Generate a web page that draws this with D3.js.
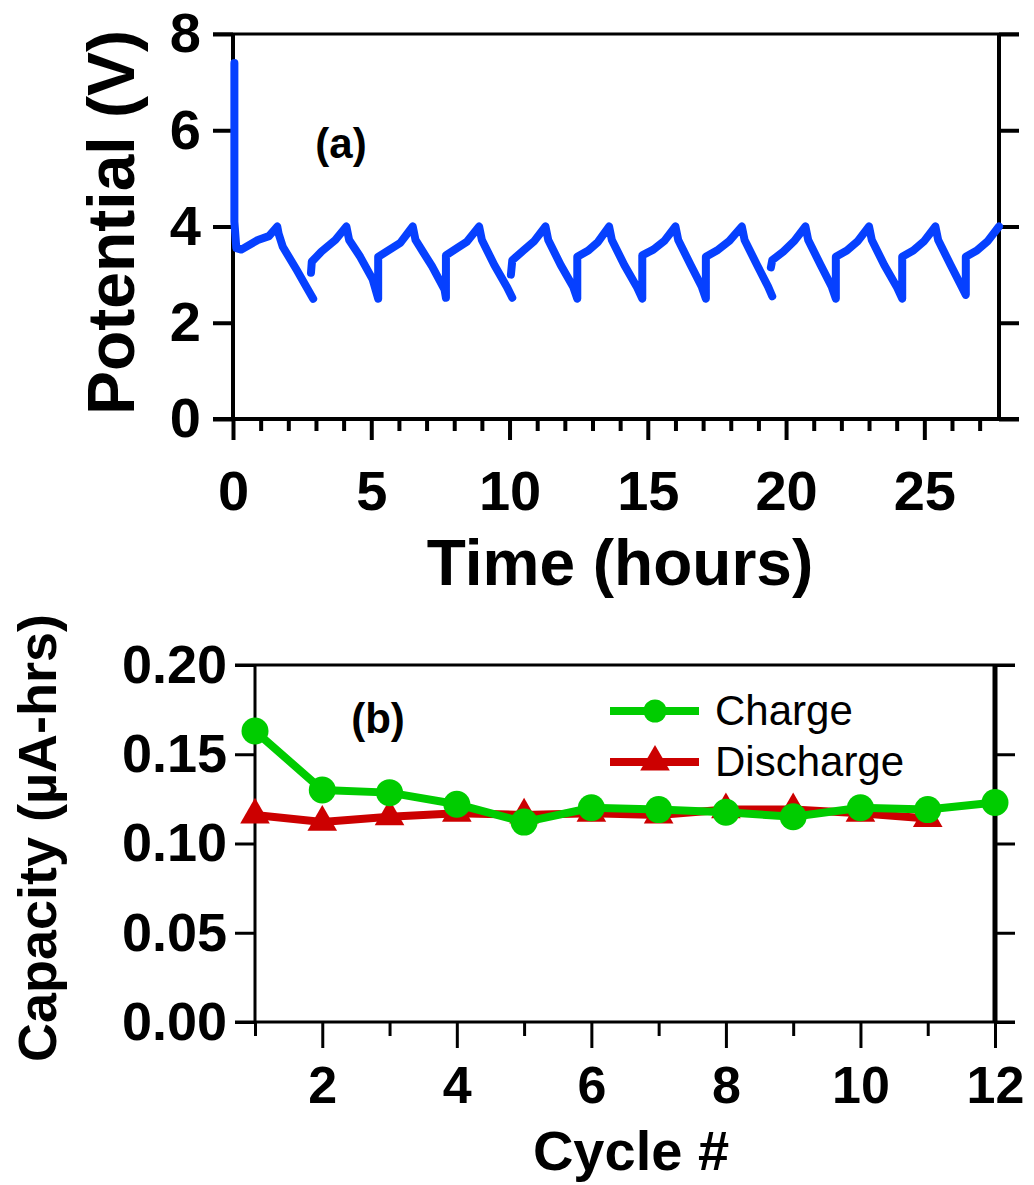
<!DOCTYPE html>
<html>
<head>
<meta charset="utf-8">
<script src="https://cdn.jsdelivr.net/npm/d3@7"></script>
<style>
  html, body { margin: 0; padding: 0; background: #fff; }
  svg { display: block; font-family: "Liberation Sans", Arial, sans-serif; }
</style>
</head>
<body>
<svg id="chart" width="1034" height="1185"></svg>
<script>
// *************** DATA ***************
// panel (a): potential vs time, null = break in the trace
const potentialTrace = [
  [0.05, 7.4], [0.05, 4.1], [0.12, 3.55], [0.3, 3.52], [0.9, 3.72], [1.3, 3.8], [1.6, 4.0],
  [1.65, 3.85], [1.8, 3.58], [2.3, 3.1], [2.65, 2.75], [2.9, 2.5],
  null,
  [2.82, 3.04], [2.85, 3.27], [3.2, 3.48], [3.7, 3.72], [4.1, 4.0],
  [4.2, 3.72], [4.6, 3.37], [5.05, 2.9], [5.25, 2.5],
  [5.25, 3.37], [5.55, 3.48], [6.05, 3.66], [6.5, 4.0],
  [6.6, 3.72], [7.2, 3.17], [7.65, 2.69], [7.7, 2.52],
  [7.7, 3.4], [8.1, 3.55], [8.45, 3.68], [8.9, 4.0],
  [9.0, 3.72], [9.45, 3.2], [9.9, 2.75], [10.1, 2.52],
  null,
  [10.05, 3.0], [10.1, 3.3], [10.5, 3.5], [10.9, 3.7], [11.3, 4.0],
  [11.4, 3.72], [11.85, 3.2], [12.3, 2.75], [12.45, 2.5],
  [12.45, 3.37], [12.85, 3.5], [13.2, 3.68], [13.6, 4.0],
  [13.7, 3.72], [14.15, 3.2], [14.6, 2.75], [14.8, 2.5],
  [14.8, 3.4], [15.2, 3.52], [15.6, 3.7], [16.0, 4.0],
  [16.1, 3.72], [16.55, 3.2], [16.95, 2.75], [17.1, 2.5],
  [17.1, 3.37], [17.5, 3.5], [17.95, 3.7], [18.4, 4.0],
  [18.5, 3.72], [18.95, 3.2], [19.35, 2.75], [19.5, 2.55],
  null,
  [19.45, 3.15], [19.5, 3.3], [19.9, 3.48], [20.3, 3.7], [20.7, 4.0],
  [20.8, 3.72], [21.25, 3.2], [21.65, 2.75], [21.8, 2.5],
  [21.8, 3.37], [22.2, 3.5], [22.6, 3.7], [23.0, 4.0],
  [23.1, 3.72], [23.55, 3.2], [24.0, 2.75], [24.2, 2.5],
  [24.2, 3.37], [24.6, 3.5], [25.0, 3.7], [25.4, 4.0],
  [25.5, 3.72], [25.95, 3.2], [26.35, 2.75], [26.5, 2.58],
  [26.5, 3.37], [26.9, 3.5], [27.3, 3.7], [27.7, 4.0]
];

// panel (b): capacity per cycle
const chargeCycles = [1, 2, 3, 4, 5, 6, 7, 8, 9, 10, 11, 12];
const chargeCapacity = [0.163, 0.130, 0.1285, 0.122, 0.112, 0.120, 0.119, 0.1175, 0.115, 0.120, 0.119, 0.123];
const dischargeCycles = [1, 2, 3, 4, 5, 6, 7, 8, 9, 10, 11];
const dischargeCapacity = [0.116, 0.112, 0.115, 0.117, 0.116, 0.117, 0.116, 0.119, 0.119, 0.117, 0.114];

const timeTicks = [0, 5, 10, 15, 20, 25];
const potentialTicks = [0, 2, 4, 6, 8];
const cycleTicks = [2, 4, 6, 8, 10, 12];
const cycleMinorTicks = [1, 3, 5, 7, 9, 11];
const capacityTicks = [0, 0.05, 0.10, 0.15, 0.20];

// *************** CONSTANTS ***************
const svg = d3.select("#chart");
const blue = "#0640ff",
      green = "#00cc00",
      red = "#cc0000";

function styleAxis(sel, width, fontSize) {
  sel.select(".domain").remove();
  sel.selectAll(".tick line").attr("stroke", "#000").attr("stroke-width", width);
  sel.selectAll(".tick text")
     .attr("fill", "#000")
     .attr("font-size", fontSize + "px")
     .attr("font-weight", "700")
     .attr("font-family", "'Liberation Sans', Arial, sans-serif");
}

// *************** PANEL (a) ***************
const xA = d3.scaleLinear().domain([0, 27.7]).range([233, 999]);
const yA = d3.scaleLinear().domain([0, 8]).range([419, 34]);
const gA = svg.append("g");

gA.append("g")
  .attr("transform", `translate(${xA.range()[0]},0)`)
  .call(d3.axisLeft(yA).tickValues(potentialTicks).tickSize(20).tickPadding(12).tickFormat(d3.format("d")))
  .call(s => styleAxis(s, 4, 56));

gA.append("g")
  .attr("transform", `translate(${xA.range()[1]},0)`)
  .call(d3.axisRight(yA).tickValues(potentialTicks).tickSize(20).tickFormat(""))
  .call(s => styleAxis(s, 4, 56));

gA.append("g")
  .attr("transform", `translate(0,${yA.range()[0]})`)
  .call(d3.axisBottom(xA).tickValues(d3.range(1, 28).filter(d => d % 5 !== 0)).tickSize(12).tickFormat(""))
  .call(s => styleAxis(s, 4, 56));

gA.append("g")
  .attr("transform", `translate(0,${yA.range()[0]})`)
  .call(d3.axisBottom(xA).tickValues(timeTicks).tickSize(21).tickPadding(30).tickFormat(d3.format("d")))
  .call(s => styleAxis(s, 4, 56));

// frame
gA.append("line").attr("x1", xA.range()[0]).attr("x2", xA.range()[0])
  .attr("y1", yA.range()[1]).attr("y2", yA.range()[0])
  .attr("stroke", "#000").attr("stroke-width", 4);
gA.append("line").attr("x1", xA.range()[1]).attr("x2", xA.range()[1])
  .attr("y1", yA.range()[1]).attr("y2", yA.range()[0])
  .attr("stroke", "#000").attr("stroke-width", 4);
gA.append("line").attr("x1", xA.range()[0] - 20).attr("x2", xA.range()[1] + 20)
  .attr("y1", yA.range()[0]).attr("y2", yA.range()[0])
  .attr("stroke", "#000").attr("stroke-width", 4);
gA.append("line").attr("x1", xA.range()[0] - 20).attr("x2", xA.range()[1] + 20)
  .attr("y1", yA.range()[1]).attr("y2", yA.range()[1])
  .attr("stroke", "#000").attr("stroke-width", 3);

const lineA = d3.line()
  .defined(d => d !== null)
  .x(d => xA(d[0]))
  .y(d => yA(d[1]));

gA.append("path")
  .datum(potentialTrace)
  .attr("d", lineA)
  .attr("fill", "none")
  .attr("stroke", blue)
  .attr("stroke-width", 8)
  .attr("stroke-linejoin", "round")
  .attr("stroke-linecap", "round");

gA.append("text")
  .attr("x", 341).attr("y", 158)
  .attr("text-anchor", "middle")
  .attr("font-size", "42px").attr("font-weight", "700")
  .text("(a)");

gA.append("text")
  .attr("x", (xA.range()[0] + xA.range()[1]) / 2 + 4).attr("y", 585)
  .attr("text-anchor", "middle")
  .attr("font-size", "64px").attr("font-weight", "700")
  .text("Time (hours)");

gA.append("text")
  .attr("transform", `translate(134,${(yA.range()[0] + yA.range()[1]) / 2 - 4}) rotate(-90)`)
  .attr("text-anchor", "middle")
  .attr("font-size", "66px").attr("font-weight", "700")
  .text("Potential (V)");

// *************** PANEL (b) ***************
const xB = d3.scaleLinear().domain([1, 12]).range([255, 995]);
const yB = d3.scaleLinear().domain([0, 0.20]).range([1022, 665]);
const gB = svg.append("g");

gB.append("g")
  .attr("transform", `translate(${xB.range()[0]},0)`)
  .call(d3.axisLeft(yB).tickValues(capacityTicks).tickSize(20).tickPadding(8).tickFormat(d3.format(".2f")))
  .call(s => styleAxis(s, 3, 54));

gB.append("g")
  .attr("transform", `translate(${xB.range()[1]},0)`)
  .call(d3.axisRight(yB).tickValues(capacityTicks).tickSize(20).tickFormat(""))
  .call(s => styleAxis(s, 3, 52));

gB.append("g")
  .attr("transform", `translate(0,${yB.range()[0]})`)
  .call(d3.axisBottom(xB).tickValues(cycleMinorTicks).tickSize(14).tickFormat(""))
  .call(s => styleAxis(s, 3, 52));

gB.append("g")
  .attr("transform", `translate(0,${yB.range()[0]})`)
  .call(d3.axisBottom(xB).tickValues(cycleTicks).tickSize(26).tickPadding(18).tickFormat(d3.format("d")))
  .call(s => styleAxis(s, 3, 52));

gB.append("line").attr("x1", xB.range()[0]).attr("x2", xB.range()[0])
  .attr("y1", yB.range()[1]).attr("y2", yB.range()[0])
  .attr("stroke", "#000").attr("stroke-width", 3);
gB.append("line").attr("x1", xB.range()[1]).attr("x2", xB.range()[1])
  .attr("y1", yB.range()[1]).attr("y2", yB.range()[0])
  .attr("stroke", "#000").attr("stroke-width", 5);
gB.append("line").attr("x1", xB.range()[0] - 20).attr("x2", xB.range()[1] + 20)
  .attr("y1", yB.range()[0]).attr("y2", yB.range()[0])
  .attr("stroke", "#000").attr("stroke-width", 3);
gB.append("line").attr("x1", xB.range()[0] - 20).attr("x2", xB.range()[1] + 20)
  .attr("y1", yB.range()[1]).attr("y2", yB.range()[1])
  .attr("stroke", "#000").attr("stroke-width", 3);

const discharge = dischargeCycles.map((c, i) => [c, dischargeCapacity[i]]);
const charge = chargeCycles.map((c, i) => [c, chargeCapacity[i]]);

const lineB = d3.line().x(d => xB(d[0])).y(d => yB(d[1]));
const triangle = d3.symbol().type(d3.symbolTriangle).size(380);

gB.append("path")
  .datum(discharge)
  .attr("d", lineB)
  .attr("fill", "none")
  .attr("stroke", red)
  .attr("stroke-width", 8);

gB.selectAll(".tri")
  .data(discharge)
  .join("path")
  .attr("class", "tri")
  .attr("transform", d => `translate(${xB(d[0])},${yB(d[1])})`)
  .attr("d", triangle)
  .attr("fill", red);

gB.append("path")
  .datum(charge)
  .attr("d", lineB)
  .attr("fill", "none")
  .attr("stroke", green)
  .attr("stroke-width", 8);

gB.selectAll(".dot")
  .data(charge)
  .join("circle")
  .attr("class", "dot")
  .attr("cx", d => xB(d[0]))
  .attr("cy", d => yB(d[1]))
  .attr("r", 13.5)
  .attr("fill", green);

// legend
const legend = gB.append("g");
const legendItems = [
  { label: "Charge", color: green, y: 711, shape: "circle" },
  { label: "Discharge", color: red, y: 762, shape: "triangle" }
];
legendItems.forEach(it => {
  legend.append("line")
        .attr("x1", 610).attr("x2", 699)
        .attr("y1", it.y).attr("y2", it.y)
        .attr("stroke", it.color).attr("stroke-width", 8);
  if (it.shape === "circle") {
    legend.append("circle").attr("cx", 655).attr("cy", it.y).attr("r", 11.5).attr("fill", it.color);
  } else {
    legend.append("path")
          .attr("transform", `translate(655,${it.y})`)
          .attr("d", triangle)
          .attr("fill", it.color);
  }
  legend.append("text")
        .attr("x", 715).attr("y", it.y + 14)
        .attr("font-size", "42px")
        .attr("fill", "#000")
        .text(it.label);
});

gB.append("text")
  .attr("x", 378).attr("y", 733)
  .attr("text-anchor", "middle")
  .attr("font-size", "42px").attr("font-weight", "700")
  .text("(b)");

gB.append("text")
  .attr("x", (xB.range()[0] + xB.range()[1]) / 2 + 6).attr("y", 1170)
  .attr("text-anchor", "middle")
  .attr("font-size", "56px").attr("font-weight", "700")
  .text("Cycle #");

gB.append("text")
  .attr("transform", `translate(56,838) rotate(-90)`)
  .attr("text-anchor", "middle")
  .attr("font-size", "54px").attr("font-weight", "700")
  .text("Capacity (µA-hrs)");
</script>
</body>
</html>
